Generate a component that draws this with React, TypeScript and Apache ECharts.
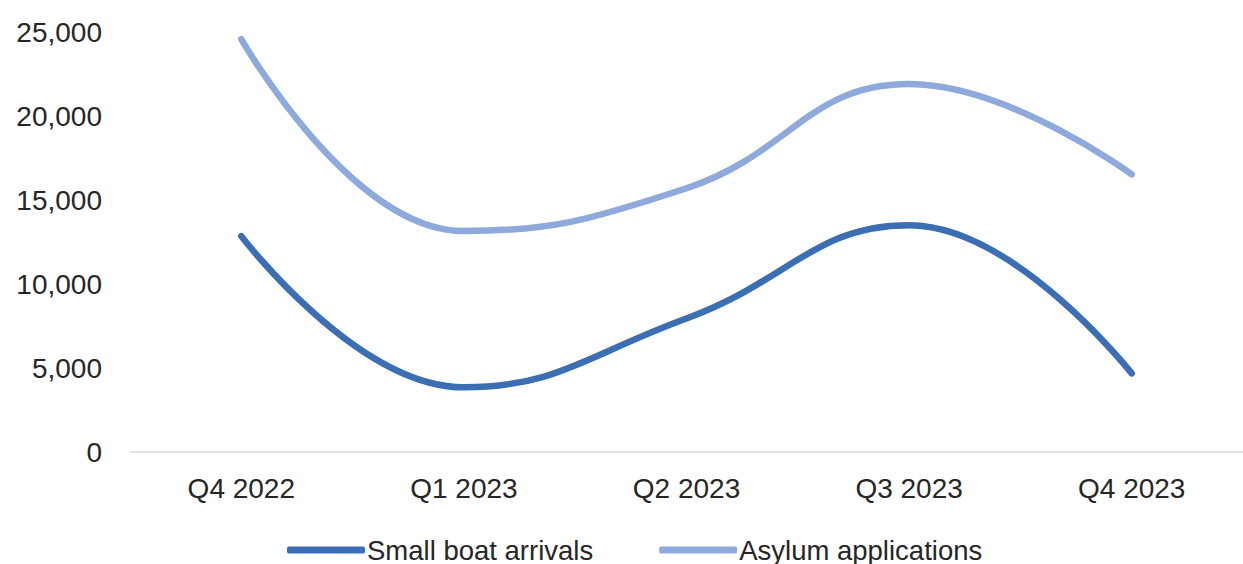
import React, { useEffect, useRef } from "react";
import * as echarts from "echarts";

// Quarterly figures
const quarters = ["Q4 2022", "Q1 2023", "Q2 2023", "Q3 2023", "Q4 2023"];
const smallBoatArrivals = [12850, 3850, 7950, 13500, 4680];
const asylumApplications = [24580, 13150, 15700, 21900, 16530];

const FONT = "'Liberation Sans', Arial, sans-serif";
const TEXT = "#262626";
const DARK = "#3C6EB4";
const LIGHT = "#8EA9DB";

export default function App() {
  const ref = useRef<HTMLDivElement>(null);

  useEffect(() => {
    if (!ref.current) return;
    const chart = echarts.init(ref.current, undefined, { renderer: "svg" });
    chart.setOption({
      animation: false,
      backgroundColor: "#ffffff",
      grid: { left: 130, top: 32, width: 1120, height: 420, containLabel: false },
      legend: {
        left: 282,
        top: 530,
        itemWidth: 78,
        itemHeight: 7,
        itemGap: 66,
        icon: "roundRect",
        textStyle: {
          fontFamily: FONT,
          fontSize: 27.5,
          color: TEXT,
          lineHeight: 30,
          padding: [0, 0, 0, -3],
        },
        data: ["Small boat arrivals", "Asylum applications"],
      },
      xAxis: {
        type: "category",
        data: quarters,
        boundaryGap: true,
        axisLine: { show: true, lineStyle: { color: "#d9d9d9", width: 1.5 } },
        axisTick: { show: false },
        axisLabel: { fontFamily: FONT, fontSize: 28, color: TEXT, margin: 22 },
        splitLine: { show: false },
      },
      yAxis: {
        type: "value",
        min: 0,
        max: 25000,
        interval: 5000,
        axisLine: { show: false },
        axisTick: { show: false },
        splitLine: { show: false },
        axisLabel: {
          fontFamily: FONT,
          fontSize: 28,
          color: TEXT,
          margin: 28,
          formatter: (v: number) => v.toLocaleString("en-US"),
        },
      },
      series: [
        {
          name: "Small boat arrivals",
          type: "line",
          data: smallBoatArrivals,
          smooth: 0.45,
          symbol: "none",
          color: DARK,
          lineStyle: { width: 6.5, color: DARK, cap: "round" },
        },
        {
          name: "Asylum applications",
          type: "line",
          data: asylumApplications,
          smooth: 0.45,
          symbol: "none",
          color: LIGHT,
          lineStyle: { width: 6.5, color: LIGHT, cap: "round" },
        },
      ],
    });
    return () => chart.dispose();
  }, []);

  return (
    <div
      ref={ref}
      style={{ position: "fixed", left: 0, top: 0, width: 1243, height: 564, background: "#fff" }}
    />
  );
}
